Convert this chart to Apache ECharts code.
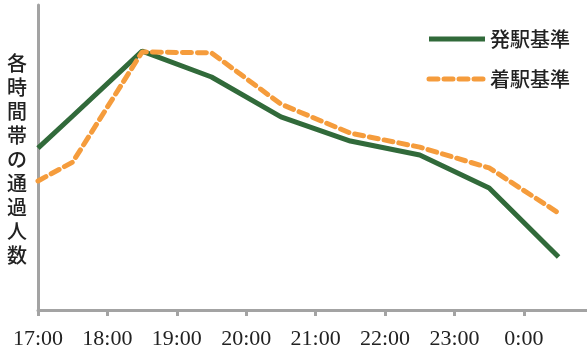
<!DOCTYPE html>
<html>
<head>
<meta charset="utf-8">
<script src="https://cdn.jsdelivr.net/npm/echarts@6/dist/echarts.min.js"></script>
<style>
html,body{margin:0;padding:0;background:#fff;}
#main{width:587px;height:354px;}
</style>
</head>
<body>
<div id="main"></div>
<script>
// Times in hours (24.5 = 0:30 next day)
const times = [17, 17.5, 18.5, 19.5, 20.5, 21.5, 22.5, 23.5, 24.5];
// 発駅基準 (departure-station based), relative scale 0-100
const hatsu = [53.1, 63.6, 84.9, 76.4, 63.3, 55.4, 50.8, 40.0, 17.4];
// 着駅基準 (arrival-station based)
const chaku = [42.3, 48.5, 84.6, 84.3, 67.5, 58.0, 53.4, 46.6, 31.8];
const seriesNames = ['発駅基準', '着駅基準'];
const yTitle = '各時間帯の通過人数';

const chart = echarts.init(document.getElementById('main'));
const axisGray = '#a3a3a3';
chart.setOption({
  animation: false,
  backgroundColor: '#fff',
  grid: {left: 38, right: 0, top: 5, bottom: 44, containLabel: false},
  legend: {
    right: 12, top: 24, orient: 'vertical',
    itemWidth: 56, itemHeight: 12, itemGap: 20,
    itemStyle: {opacity: 0},
    lineStyle: {width: 5},
    textStyle: {fontFamily: 'Noto Sans CJK JP', fontWeight: 500, fontSize: 20, color: '#222'},
    data: seriesNames
  },
  xAxis: {
    type: 'value', min: 17, max: 24.91, interval: 1,
    axisLine: {lineStyle: {color: axisGray, width: 3}},
    axisTick: {show: true, length: 6, lineStyle: {color: axisGray, width: 3}},
    splitLine: {show: false},
    axisLabel: {
      margin: 18, fontFamily: 'Liberation Serif', fontSize: 22, color: '#222',
      showMaxLabel: false,
      formatter: v => (Math.round(v) % 24) + ':00'
    }
  },
  yAxis: {
    type: 'value', min: 0, max: 100,
    axisLine: {show: true, lineStyle: {color: axisGray, width: 3}},
    axisTick: {show: false}, axisLabel: {show: false}, splitLine: {show: false}
  },
  graphic: [{
    type: 'text', left: 7, top: 51,
    style: {
      text: yTitle.split('').join('\n'),
      font: '500 20px "Noto Sans CJK JP"', lineHeight: 24, fill: '#222', textAlign: 'left'
    }
  }],
  series: [
    {
      name: seriesNames[0], type: 'line', symbol: 'none',
      data: times.map((t, i) => [t, hatsu[i]]),
      lineStyle: {color: '#316a3a', width: 5},
      itemStyle: {color: '#316a3a'}
    },
    {
      name: seriesNames[1], type: 'line', symbol: 'none',
      data: times.map((t, i) => [t, chaku[i]]),
      lineStyle: {color: '#f59c3c', width: 5, type: [9, 6], cap: 'round'},
      itemStyle: {color: '#f59c3c'}
    }
  ]
});
</script>
</body>
</html>
